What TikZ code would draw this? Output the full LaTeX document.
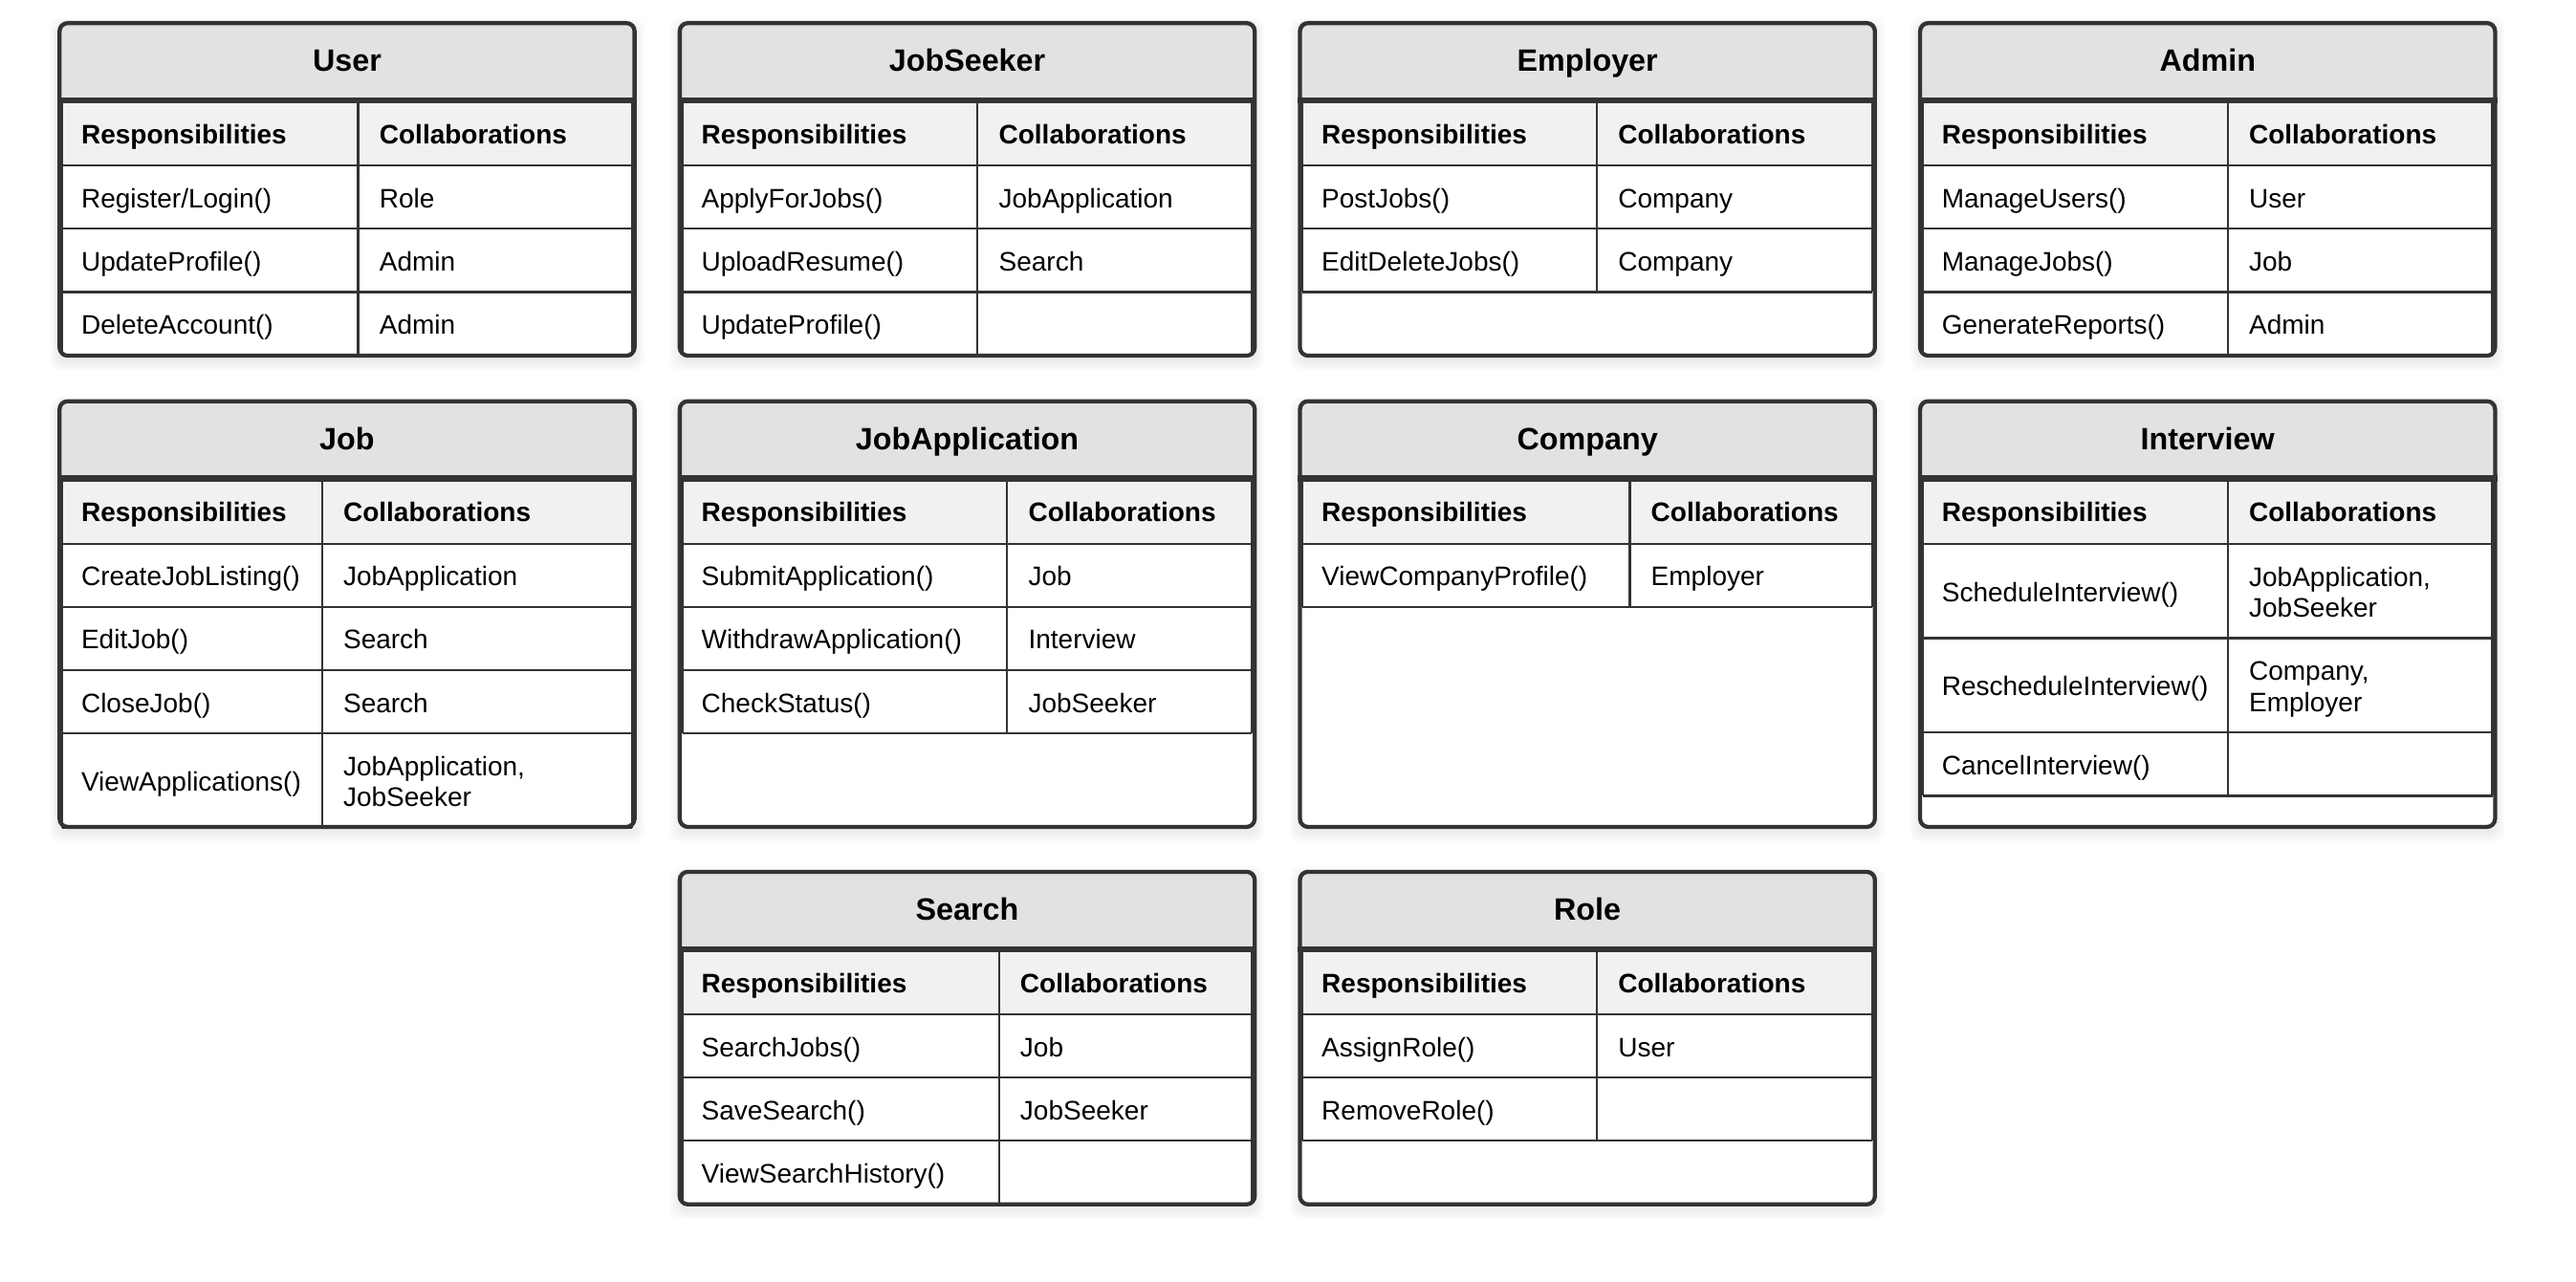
\documentclass[tikz,border=0pt]{standalone}
\usepackage{fontspec}
\setmainfont{Liberation Sans}
\definecolor{bordc}{HTML}{333333}
\definecolor{titlec}{HTML}{E2E2E2}
\definecolor{headc}{HTML}{F1F1F1}
\newcommand\cellfont{\fontsize{16.3pt}{18.7pt}\selectfont}
\newcommand\titfont{\fontsize{18.8pt}{21.6pt}\selectfont\bfseries}
\tikzset{
  cellt/.style={anchor=west, inner sep=0pt, outer sep=0pt, font=\cellfont, align=left},
  headt/.style={cellt, font=\cellfont\bfseries},
  titt/.style={anchor=center, inner sep=0pt, outer sep=0pt, font=\titfont},
  gridl/.style={draw=bordc, line width=1.3pt},
  thickl/.style={draw=bordc, line width=3.5pt},
  cardb/.style={draw=bordc, line width=2.5pt, rounded corners=5pt},
  cardarea/.style={anchor=north west, minimum width=352.5pt, inner sep=0pt, outer sep=0pt},
}
% #1 id, #2 height, #3 title, #4 divider
\newcommand\crdstart[4]{%
  \foreach \s in {1,...,6}{\fill[black, opacity=0.012, rounded corners=6pt] (1-\s, 4-\s) rectangle (351.5+\s, #2+2+\s);}
  \fill[white, rounded corners=5pt] (0,0) rectangle (352.5,#2);
  \node[cardarea, minimum height=#2pt] (#1) at (0,0) {};
  \begin{scope}
    \clip[rounded corners=5pt] (0,0) rectangle (352.5,#2);
    \fill[titlec] (0,0) rectangle (352.5,48.3);
    \fill[headc] (0,48.3) rectangle (352.5,88);
  \end{scope}
  \node[titt] (#1-title) at (176.25, 24+2.4) {\strut #3};
  \node[headt] (#1-resp) at (14.5, 68.2+2.8) {\strut Responsibilities};
  \node[headt] (#1-coll) at (#4+13, 68.2+2.8) {\strut Collaborations};
}
% #1 id, #2 idx, #3 top, #4 h, #5 div, #6 resp, #7 collab
\newcommand\crdrow[7]{%
  \node[cellt] (#1-r#2) at (14.5, #3+#4/2+2.7) {\strut #6};
  \node[cellt] (#1-c#2) at (#5+13, #3+#4/2+2.7) {\strut #7};
  \draw[gridl] (2.9, #3+#4) -- (349.6, #3+#4);
}
\newcommand\crdrowr[6]{%
  \node[cellt] (#1-r#2) at (14.5, #3+#4/2+2.7) {\strut #6};
  \draw[gridl] (2.9, #3+#4) -- (349.6, #3+#4);
}
% #1 height, #2 div, #3 table bottom
\newcommand\crdend[3]{%
  \draw[gridl] (2.9,48.3) -- (2.9,#3);
  \draw[gridl] (349.6,48.3) -- (349.6,#3);
  \draw[gridl] (#2,48.3) -- (#2,#3);
  \draw[gridl] (2.9,88) -- (349.6,88);
  \draw[thickl] (0,48.3) -- (352.5,48.3);
  \draw[cardb] (1.25,1.25) rectangle (351.25,#1-1.25);
}
\begin{document}
\begin{tikzpicture}[x=1pt, y=-1pt]
\useasboundingbox (0,0) rectangle (1568,780);
\fill[white] (0,0) rectangle (1568,780);

% ---------- Row 1 ----------
\begin{scope}[shift={(35,12.8)}]
  \crdstart{user}{205}{User}{183}
  \crdrow{user}{1}{88}{38.5}{183}{Register/Login()}{Role}
  \crdrow{user}{2}{126.5}{38.5}{183}{UpdateProfile()}{Admin}
  \crdrow{user}{3}{165}{38.5}{183}{DeleteAccount()}{Admin}
  \crdend{205}{183}{203.5}
\end{scope}

\begin{scope}[shift={(412.5,12.8)}]
  \crdstart{seeker}{205}{JobSeeker}{182.5}
  \crdrow{seeker}{1}{88}{38.5}{182.5}{ApplyForJobs()}{JobApplication}
  \crdrow{seeker}{2}{126.5}{38.5}{182.5}{UploadResume()}{Search}
  \crdrowr{seeker}{3}{165}{38.5}{182.5}{UpdateProfile()}
  \crdend{205}{182.5}{203.5}
\end{scope}

\begin{scope}[shift={(790,12.8)}]
  \crdstart{employer}{205}{Employer}{182}
  \crdrow{employer}{1}{88}{38.5}{182}{PostJobs()}{Company}
  \crdrow{employer}{2}{126.5}{38.5}{182}{EditDeleteJobs()}{Company}
  \crdend{205}{182}{165}
\end{scope}

\begin{scope}[shift={(1167.5,12.8)}]
  \crdstart{admin}{205}{Admin}{188.5}
  \crdrow{admin}{1}{88}{38.5}{188.5}{ManageUsers()}{User}
  \crdrow{admin}{2}{126.5}{38.5}{188.5}{ManageJobs()}{Job}
  \crdrow{admin}{3}{165}{38.5}{188.5}{GenerateReports()}{Admin}
  \crdend{205}{188.5}{203.5}
\end{scope}

% ---------- Row 2 ----------
\begin{scope}[shift={(35,243)}]
  \crdstart{job}{261.7}{Job}{161}
  \crdrow{job}{1}{88}{38.5}{161}{CreateJobListing()}{JobApplication}
  \crdrow{job}{2}{126.5}{38.5}{161}{EditJob()}{Search}
  \crdrow{job}{3}{165}{38.5}{161}{CloseJob()}{Search}
  \crdrow{job}{4}{203.5}{57.5}{161}{ViewApplications()}{JobApplication,\\\strut JobSeeker}
  \crdend{261.7}{161}{261}
\end{scope}

\begin{scope}[shift={(412.5,243)}]
  \crdstart{jobapp}{261.7}{JobApplication}{200.5}
  \crdrow{jobapp}{1}{88}{38.5}{200.5}{SubmitApplication()}{Job}
  \crdrow{jobapp}{2}{126.5}{38.5}{200.5}{WithdrawApplication()}{Interview}
  \crdrow{jobapp}{3}{165}{38.5}{200.5}{CheckStatus()}{JobSeeker}
  \crdend{261.7}{200.5}{203.5}
\end{scope}

\begin{scope}[shift={(790,243)}]
  \crdstart{company}{261.7}{Company}{202}
  \crdrow{company}{1}{88}{38.5}{202}{ViewCompanyProfile()}{Employer}
  \crdend{261.7}{202}{126.5}
\end{scope}

\begin{scope}[shift={(1167.5,243)}]
  \crdstart{interview}{261.7}{Interview}{188.5}
  \crdrow{interview}{1}{88}{57.5}{188.5}{ScheduleInterview()}{JobApplication,\\\strut JobSeeker}
  \crdrow{interview}{2}{145.5}{57.5}{188.5}{RescheduleInterview()}{Company,\\\strut Employer}
  \crdrowr{interview}{3}{203}{38.5}{188.5}{CancelInterview()}
  \crdend{261.7}{188.5}{241.5}
\end{scope}

% ---------- Row 3 ----------
\begin{scope}[shift={(412.5,529.5)}]
  \crdstart{search}{205}{Search}{195.5}
  \crdrow{search}{1}{88}{38.5}{195.5}{SearchJobs()}{Job}
  \crdrow{search}{2}{126.5}{38.5}{195.5}{SaveSearch()}{JobSeeker}
  \crdrowr{search}{3}{165}{38.5}{195.5}{ViewSearchHistory()}
  \crdend{205}{195.5}{203.5}
\end{scope}

\begin{scope}[shift={(790,529.5)}]
  \crdstart{role}{205}{Role}{182}
  \crdrow{role}{1}{88}{38.5}{182}{AssignRole()}{User}
  \crdrowr{role}{2}{126.5}{38.5}{182}{RemoveRole()}
  \crdend{205}{182}{165}
\end{scope}
\end{tikzpicture}
\end{document}
